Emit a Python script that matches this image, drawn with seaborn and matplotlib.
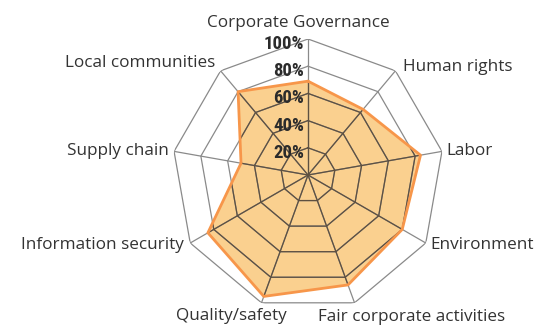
import numpy as np
import pandas as pd
import matplotlib
matplotlib.use("Agg")
import matplotlib.pyplot as plt
import seaborn as sns

categories = ["Corporate Governance", "Human rights", "Labor", "Environment",
              "Fair corporate activities", "Quality/safety", "Information security",
              "Supply chain", "Local communities"]
scores = [69, 63, 84, 80, 86, 95, 85, 50, 80]
levels = [20, 40, 60, 80, 100]
level_labels = ["20%", "40%", "60%", "80%", "100%"]

# label offsets from the outer vertex, in pixels (dx, dy with y down)
label_offsets = [(-10, -16), (8, -4), (4, 0), (5, 2), (-37, 14),
                 (25, 13), (-6, 2), (-5, 0), (-5, -8)]
label_align = ["center", "left", "left", "left", "left",
               "right", "right", "right", "right"]

sns.set_theme(style="white")
plt.rcParams["font.family"] = ["Open Sans", "DejaVu Sans"]

df = pd.DataFrame({"category": categories, "score": scores})
n = len(df)
angles = np.linspace(0, 2 * np.pi, n, endpoint=False)
closed_angles = np.append(angles, angles[0])
closed_scores = np.append(df["score"].values, df["score"].values[0])

fig = plt.figure(figsize=(5.38, 3.28), dpi=100)
ax = fig.add_axes([0.3197, 0.0518, 0.5056, 0.8293], projection="polar")
ax.set_theta_zero_location("N")
ax.set_theta_direction(-1)
ax.set_ylim(0, 100)
ax.grid(False)
ax.spines["polar"].set_visible(False)
ax.set_xticks([])
ax.set_yticks([])
ax.patch.set_alpha(0)

fill = ax.fill(closed_angles, closed_scores, color="#fad08f", zorder=1, lw=0)[0]

grid_gray = "#8a8a8a"
grid_dark = "#5e5040"
for lvl in levels:
    r = np.full(n + 1, lvl)
    ax.plot(closed_angles, r, color=grid_gray, lw=0.9, zorder=2)
    inner = ax.plot(closed_angles, r, color=grid_dark, lw=0.9, zorder=3)[0]
    inner.set_clip_path(fill)
for a in angles:
    ax.plot([a, a], [0, 100], color=grid_gray, lw=0.9, zorder=2)
    inner = ax.plot([a, a], [0, 100], color=grid_dark, lw=0.9, zorder=3)[0]
    inner.set_clip_path(fill)

sns.lineplot(x=closed_angles, y=closed_scores, sort=False, estimator=None,
             color="#f7964a", lw=2, ax=ax, zorder=4)

px = 72 / fig.dpi
for a, name, (dx, dy), ha in zip(angles, categories, label_offsets, label_align):
    ax.annotate(name, xy=(a, 100), xytext=(dx * px, -dy * px),
                textcoords="offset points", ha=ha, va="center",
                fontsize=12.3, color="#333333", annotation_clip=False)

for lvl, lab in zip(levels, level_labels):
    ax.annotate(lab, xy=(0, lvl), xytext=(-4 * px, -5 * px),
                textcoords="offset points", ha="right", va="center",
                fontsize=13.5, fontweight="bold", fontstretch="condensed",
                color="#2b2b2b",
                family=["Roboto Condensed", "Liberation Sans Narrow", "DejaVu Sans"],
                zorder=5)

fig.savefig("out.png", dpi=100)
